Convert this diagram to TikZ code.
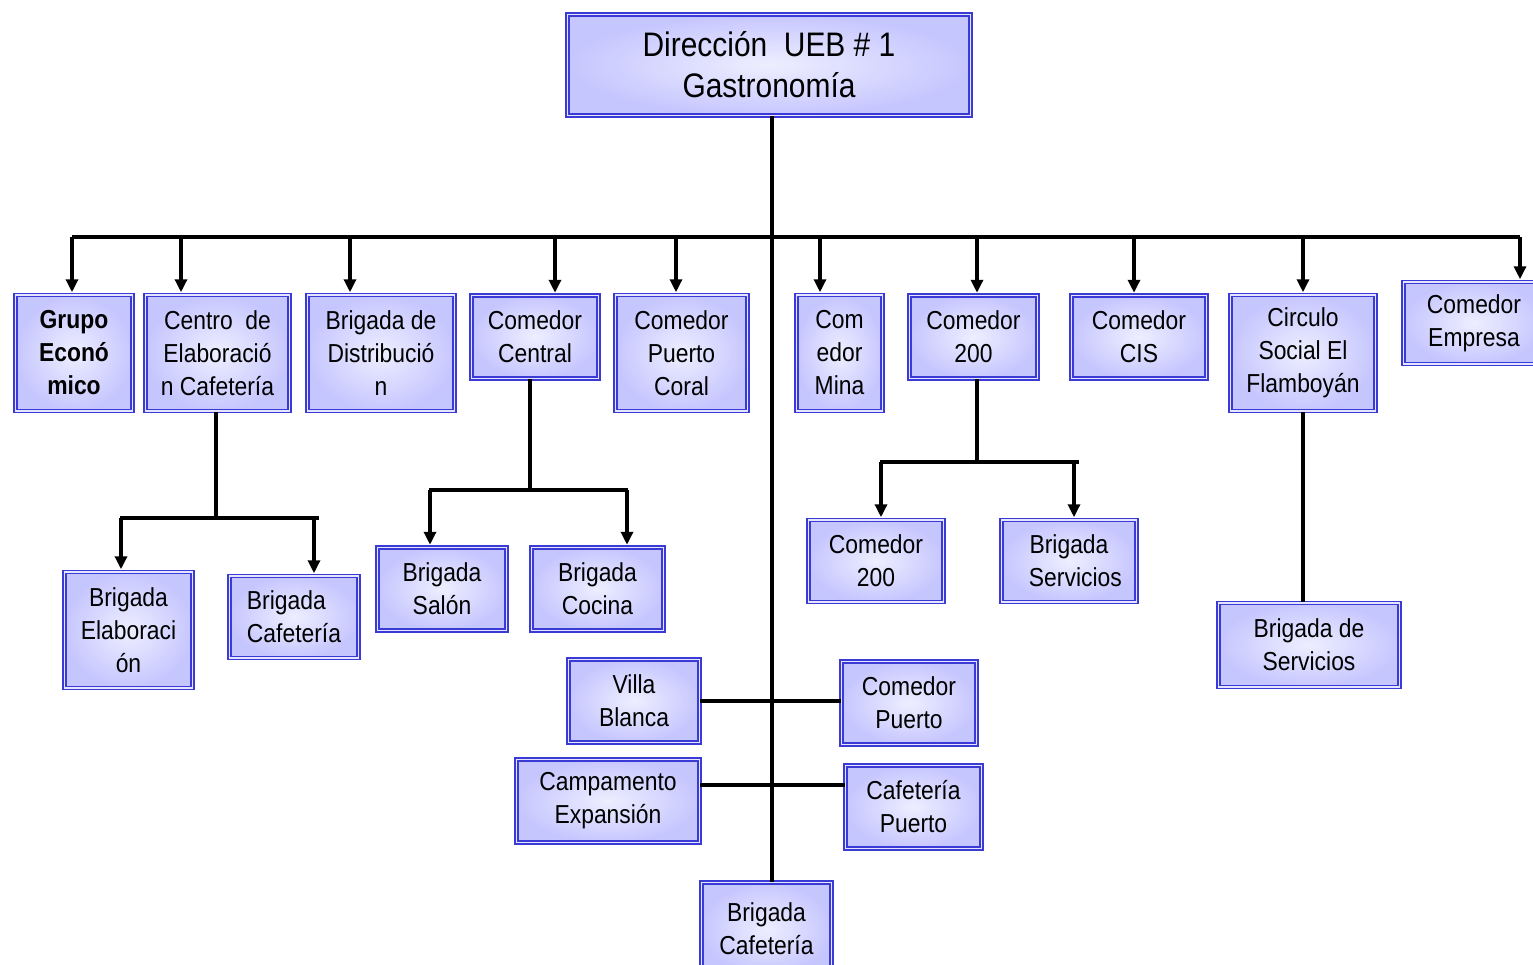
\documentclass[tikz,border=0pt]{standalone}
\usepackage{fontspec}
\setmainfont{Liberation Sans}[FakeStretch=0.88]
\usetikzlibrary{arrows.meta}
\definecolor{unitblue}{RGB}{58,58,214}
\definecolor{unitfill}{RGB}{198,198,255}
\definecolor{unitlight}{RGB}{238,238,255}
\tikzset{
  unit/.style={draw=unitblue, line width=1.5pt, double=unitfill!45, double distance=1.8pt,
    inner color=unitlight, outer color=unitfill, align=center, inner sep=0pt,
    font=\fontsize{26}{33}\selectfont},
  sz/.style args={#1/#2}{minimum width=#1pt-5pt, minimum height=#2pt-5pt},
  link/.style={line width=3.5pt},
  arr/.style={link, -{Triangle[width=12pt,length=13pt]}, shorten >=2pt},
}
\begin{document}
\begin{tikzpicture}[x=1pt, y=-1pt]
\useasboundingbox (0,0) rectangle (1533,964);
% direccion
\node[unit, sz=408/106, font=\fontsize{34}{41}\selectfont] (dir) at (769,65) {Dirección\ \ UEB \# 1\\Gastronomía};
% primer nivel
\node[unit, sz=122/121, font=\fontsize{26}{33}\selectfont\bfseries] (grupo) at (74,353) {Grupo\\Econó\\mico};
\node[unit, sz=149/121] (centro) at (217.5,353) {Centro\ \ de\\Elaboració\\n Cafetería};
\node[unit, sz=152/121] (distrib) at (381,353) {Brigada de\\Distribució\\n};
\node[unit, sz=132/88] (central) at (535,337) {Comedor\\Central};
\node[unit, sz=137/121] (coral) at (681.5,353) {Comedor\\Puerto\\Coral};
\node[unit, sz=91/121] (mina) at (839.5,353) {Com\\edor\\Mina};
\node[unit, sz=133/88] (com200) at (973.5,337) {Comedor\\200};
\node[unit, sz=140/88] (cis) at (1139,337) {Comedor\\CIS};
\node[unit, sz=150/121] (circulo) at (1303,353) {Circulo\\Social El\\Flamboyán};
\node[unit, sz=146/87] (empresa) at (1474,323) {Comedor\\Empresa};
% segundo nivel
\node[unit, sz=133/121] (belab) at (128.5,630) {Brigada\\Elaboraci\\ón};
\node[unit, sz=134/87, align=left] (bcafe) at (294,617) {Brigada\\Cafetería};
\node[unit, sz=134/88] (bsalon) at (442,589) {Brigada\\Salón};
\node[unit, sz=137/88] (bcocina) at (597.5,589) {Brigada\\Cocina};
\node[unit, sz=140/87] (com200b) at (876,561) {Comedor\\200};
\node[unit, sz=140/87] (bserv) at (1069,561) {Brigada\\\ \ Servicios};
\node[unit, sz=186/89] (bdeserv) at (1309,645) {Brigada de\\Servicios};
% unidades del centro
\node[unit, sz=136/88] (villa) at (634,701) {Villa\\Blanca};
\node[unit, sz=140/88] (cpuerto) at (909,703) {Comedor\\Puerto};
\node[unit, sz=188/88] (campam) at (608,801) {Campamento\\Expansión};
\node[unit, sz=141/88] (cafpuerto) at (913.5,807) {Cafetería\\Puerto};
\node[unit, sz=135/98] (bcafeb) at (766.5,929) {Brigada\\Cafetería};

% conectores
\coordinate (busL) at (72,237);
\coordinate (busR) at (1520,237);
\draw[link] ([xshift=3pt]dir.south) -- ([xshift=3pt]dir.south |- bcafeb.north);
\draw[link] (busL) -- (busR);
\foreach \n/\dx in {grupo/-2, centro/-36.5, distrib/-31, central/20, coral/-5.5,
    mina/-19.5, com200/3.5, cis/-5, circulo/0, empresa/46}
  \draw[arr] ([xshift=\dx pt]\n.north |- busL) -- ([xshift=\dx pt]\n.north);

% ramas
\coordinate (barA) at (0,518);
\draw[link] ([xshift=-1.5pt]centro.south) -- ([xshift=-1.5pt]centro.south |- barA);
\draw[link] ([xshift=-8.5pt]belab.north |- barA) -- ([xshift=25pt]bcafe.north |- barA);
\draw[arr] ([xshift=-7.5pt]belab.north |- barA) -- ([xshift=-7.5pt]belab.north);
\draw[arr] ([xshift=20pt]bcafe.north |- barA) -- ([xshift=20pt]bcafe.north);

\coordinate (barB) at (0,490);
\draw[link] ([xshift=-5pt]central.south) -- ([xshift=-5pt]central.south |- barB);
\draw[link] ([xshift=-13pt]bsalon.north |- barB) -- ([xshift=30.5pt]bcocina.north |- barB);
\draw[arr] ([xshift=-12pt]bsalon.north |- barB) -- ([xshift=-12pt]bsalon.north);
\draw[arr] ([xshift=29.5pt]bcocina.north |- barB) -- ([xshift=29.5pt]bcocina.north);

\coordinate (barC) at (0,462);
\draw[link] ([xshift=3.5pt]com200.south) -- ([xshift=3.5pt]com200.south |- barC);
\draw[link] ([xshift=4pt]com200b.north |- barC) -- ([xshift=10pt]bserv.north |- barC);
\draw[arr] ([xshift=5pt]com200b.north |- barC) -- ([xshift=5pt]com200b.north);
\draw[arr] ([xshift=5pt]bserv.north |- barC) -- ([xshift=5pt]bserv.north);

\draw[link] (circulo.south) -- (circulo.south |- bdeserv.north);
\draw[link] (villa.east) -- (villa.east -| cpuerto.west);
\draw[link] ([yshift=16pt]campam.east) -- ([yshift=16pt]campam.east -| cafpuerto.west);
\end{tikzpicture}
\end{document}
